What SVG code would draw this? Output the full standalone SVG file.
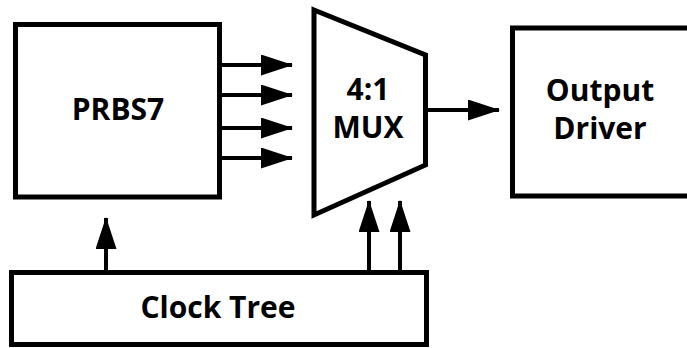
<svg xmlns="http://www.w3.org/2000/svg" width="687" height="348" viewBox="0 0 687 348">
<style>
.blk{fill:#fff;stroke:#000;stroke-width:5;stroke-linejoin:miter}
.lbl{font-family:"Open Sans","Noto Sans","DejaVu Sans",sans-serif;font-weight:bold;font-size:30px;fill:#000;text-anchor:middle}
.wire{stroke:#000;stroke-width:4;fill:none}
</style>
<defs>
<marker id="ah" markerUnits="userSpaceOnUse" markerWidth="33" markerHeight="22" refX="31" refY="10.5" orient="auto">
<polygon points="0,0 32,10.5 0,21" fill="#000"/>
</marker>
</defs>
<rect width="687" height="348" fill="#fff"/>
<g id="prbs7">
<rect class="blk" x="15.5" y="24.5" width="204" height="172.5"/>
<text class="lbl" x="118" y="120">PRBS7</text>
</g>
<g id="mux">
<polygon class="blk" points="314,10 425.5,55 425.5,165 314,215"/>
<text class="lbl" x="368" y="100">4:1</text>
<text class="lbl" x="368" y="138">MUX</text>
</g>
<g id="driver">
<rect class="blk" x="512.5" y="28" width="180" height="168"/>
<text class="lbl" x="600" y="101" font-size="29">Output</text>
<text class="lbl" x="600" y="139" font-size="29">Driver</text>
</g>
<g id="clock">
<rect class="blk" x="11.5" y="272.5" width="415" height="72" stroke-width="6"/>
<text class="lbl" x="218" y="318">Clock Tree</text>
</g>
<g id="connectors">
<line class="wire" x1="222" y1="65" x2="292" y2="65" marker-end="url(#ah)"/>
<line class="wire" x1="222" y1="95" x2="292" y2="95" marker-end="url(#ah)"/>
<line class="wire" x1="222" y1="128" x2="292" y2="128" marker-end="url(#ah)"/>
<line class="wire" x1="222" y1="158" x2="292" y2="158" marker-end="url(#ah)"/>
<line class="wire" x1="428" y1="110" x2="499" y2="110" marker-end="url(#ah)"/>
<line class="wire" x1="106" y1="270" x2="106" y2="218" marker-end="url(#ah)"/>
<line class="wire" x1="369" y1="270" x2="369" y2="201" marker-end="url(#ah)"/>
<line class="wire" x1="400" y1="270" x2="400" y2="201" marker-end="url(#ah)"/>
</g>
</svg>
